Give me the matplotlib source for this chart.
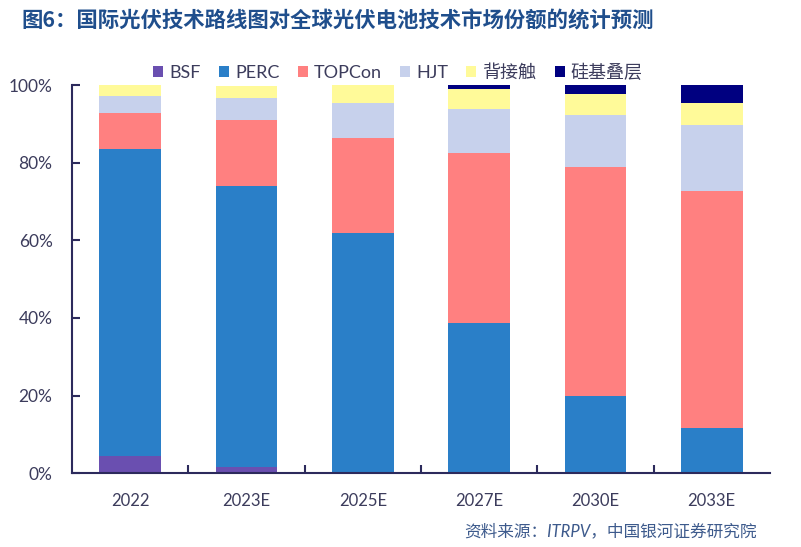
import numpy as np
import matplotlib
matplotlib.use("Agg")
import matplotlib.pyplot as plt
from matplotlib.ticker import PercentFormatter

plt.rcParams['font.family'] = ['Lato', 'Noto Sans CJK SC', 'DejaVu Sans']

# shares in percent
years = ["2022", "2023E", "2025E", "2027E", "2030E", "2033E"]
bsf = [4.5, 1.7, 0, 0, 0, 0]
perc = [79.1, 72.3, 61.9, 38.8, 20.0, 11.6]
topcon = [9.2, 16.9, 24.4, 43.6, 59.0, 61.1]
hjt = [4.3, 5.7, 9.1, 11.3, 13.3, 17.0]
back_contact = [2.9, 3.1, 4.6, 5.2, 5.3, 5.7]
tandem = [0, 0, 0, 1.1, 2.4, 4.6]

series = [
    ("BSF", bsf, "#6a4fb0"),
    ("PERC", perc, "#2a7fc8"),
    ("TOPCon", topcon, "#ff8080"),
    ("HJT", hjt, "#c7d1ec"),
    ("背接触", back_contact, "#fffa99"),
    ("硅基叠层", tandem, "#000080"),
]

axis_col = "#2c2a5c"
text_col = "#3c3c5c"

fig = plt.figure(figsize=(8.01, 5.47), dpi=100)
ax = fig.add_axes([0.0899, 0.1347, 0.8712, 0.7099])

x = np.arange(len(years))
bottom = np.zeros(len(years))
for name, vals, col in series:
    vals = np.array(vals)
    ax.bar(x, vals, width=0.53, bottom=bottom, color=col, label=name, linewidth=0)
    bottom += vals

ax.set_xlim(-0.5, len(years) - 0.5)
ax.set_ylim(0, 100)
ax.yaxis.set_major_formatter(PercentFormatter(decimals=0))
ax.set_yticks(np.arange(0, 101, 20))

# x ticks sit between the categories
ax.set_xticks(x)
ax.set_xticklabels(years)
ax.set_xticks(np.arange(0.5, len(years) - 1, 1), minor=True)
ax.tick_params(axis='x', which='major', length=0, pad=14, labelsize=12, labelcolor=text_col)
ax.tick_params(axis='x', which='minor', direction='in', length=6, width=1.5, color=axis_col)
ax.tick_params(axis='y', direction='in', length=6, width=1.5, color=axis_col,
               pad=14, labelsize=12.5, labelcolor=text_col)

for side in ['top', 'right']:
    ax.spines[side].set_visible(False)
for side in ['left', 'bottom']:
    ax.spines[side].set_color(axis_col)
    ax.spines[side].set_linewidth(1.5)

fig.legend(loc='center', bbox_to_anchor=(0.497, 0.868), ncol=6, frameon=False,
           fontsize=13, handlelength=0.55, handleheight=0.55, handletextpad=0.35,
           columnspacing=1.0, labelcolor=text_col)

fig.text(0.027, 0.962, "图6：国际光伏技术路线图对全球光伏电池技术市场份额的统计预测",
         fontsize=15.4, fontweight='bold', color="#1f4e8c", va='center', ha='left',
         family=['Noto Sans CJK SC', 'DejaVu Sans'])

fig.text(0.945, 0.028, "资料来源：ITRPV，中国银河证券研究院", fontsize=12,
         style='italic', color="#3d5a8c", ha='right', va='center')

fig.savefig("out.png", dpi=100, facecolor='white')
